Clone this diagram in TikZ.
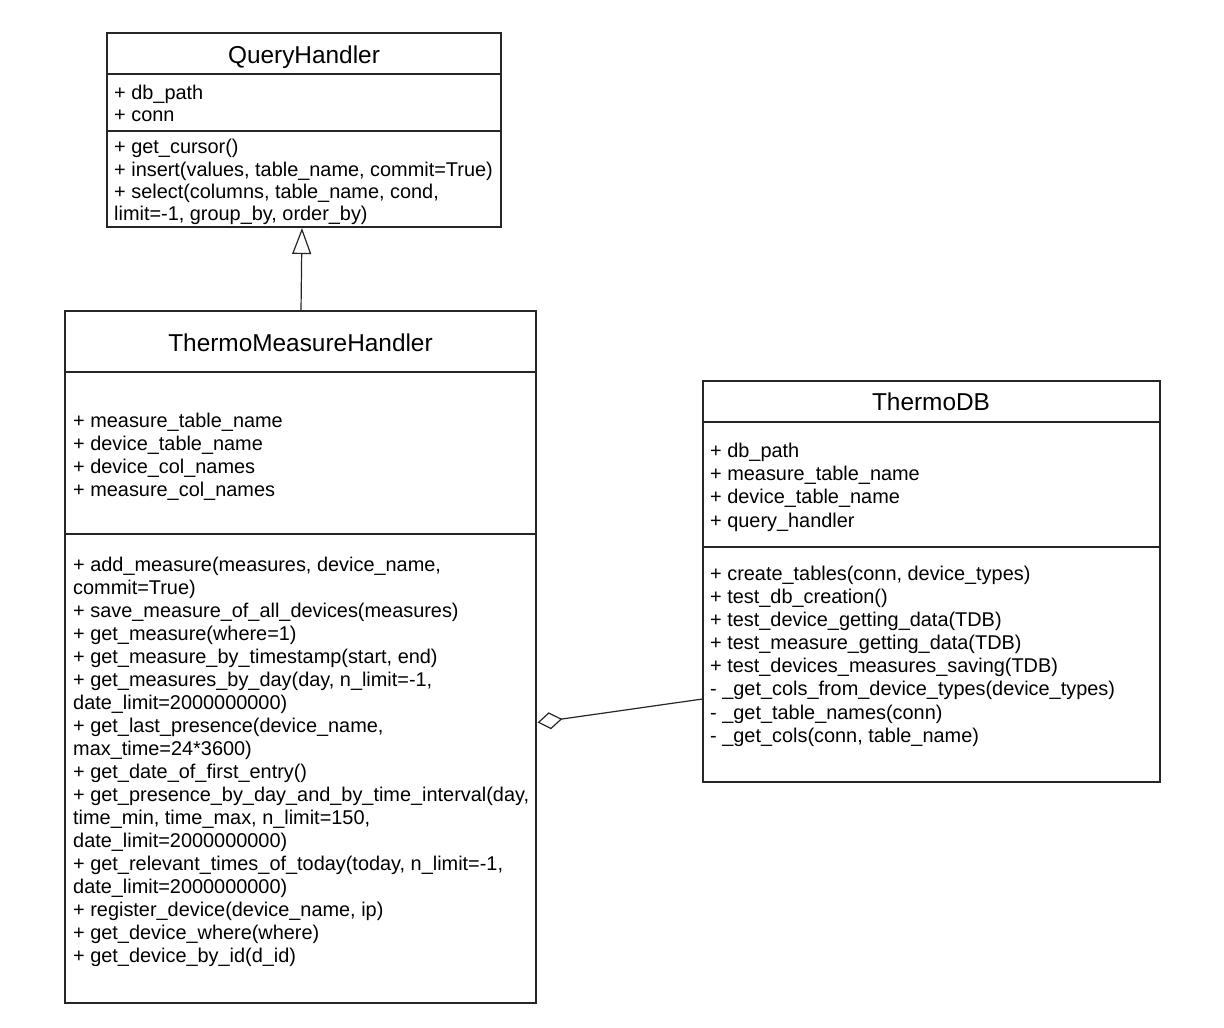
\documentclass[tikz,border=0pt]{standalone}
\usepackage{fontspec}
\setmainfont{Liberation Sans}
\usetikzlibrary{arrows.meta}
\begin{document}
\begin{tikzpicture}[x=1pt,y=-1pt,
  classbox/.style={draw=black!85, line width=1.2pt, inner sep=0pt, outer sep=0pt, fill=white},
  classtitle/.style={anchor=base, font=\fontsize{24.4}{28}\selectfont, inner sep=0pt},
  member/.style={anchor=base west, font=\fontsize{19.9}{23}\selectfont, inner sep=0pt},
  sepline/.style={draw=black!85, line width=1.2pt},
  thicksep/.style={draw=black!85, line width=2pt}]
\useasboundingbox (0,0) rectangle (1224,1028);
\fill[white] (0,0) rectangle (1224,1028);

% ---------- QueryHandler ----------
\node[classbox, minimum width=394pt, minimum height=194pt] (qh) at (304,130) {};
\draw[sepline] (qh.west |- 0,74) -- (qh.east |- 0,74);
\draw[sepline] (qh.west |- 0,131) -- (qh.east |- 0,131);
\node[classtitle] (qh-t) at (304,63) {QueryHandler};
\node[member] (qh-a1) at (114,99) {+ db\_path};
\node[member] (qh-a2) at (114,121) {+ conn};
\node[member] (qh-m1) at (114,153) {+ get\_cursor()};
\node[member] (qh-m2) at (114,176) {+ insert(values, table\_name, commit=True)};
\node[member] (qh-m3) at (114,198) {+ select(columns, table\_name, cond,};
\node[member] (qh-m4) at (114,220) {limit=-1, group\_by, order\_by)};

% ---------- ThermoMeasureHandler ----------
\node[classbox, minimum width=471pt, minimum height=692pt] (tmh) at (300.5,657) {};
\draw[thicksep] (tmh.west |- 0,372) -- (tmh.east |- 0,372);
\draw[sepline] (tmh.west |- 0,534) -- (tmh.east |- 0,534);
\node[classtitle] (tmh-t) at (300.5,351) {ThermoMeasureHandler};
\node[member] (tmh-a1) at (73,427) {+ measure\_table\_name};
\node[member] (tmh-a2) at (73,450) {+ device\_table\_name};
\node[member] (tmh-a3) at (73,473) {+ device\_col\_names};
\node[member] (tmh-a4) at (73,496) {+ measure\_col\_names};
\node[member] (tmh-m1)  at (73,571) {+ add\_measure(measures, device\_name,};
\node[member] (tmh-m2)  at (73,594) {commit=True)};
\node[member] (tmh-m3)  at (73,617) {+ save\_measure\_of\_all\_devices(measures)};
\node[member] (tmh-m4)  at (73,640) {+ get\_measure(where=1)};
\node[member] (tmh-m5)  at (73,663) {+ get\_measure\_by\_timestamp(start, end)};
\node[member] (tmh-m6)  at (73,686) {+ get\_measures\_by\_day(day, n\_limit=-1,};
\node[member] (tmh-m7)  at (73,709) {date\_limit=2000000000)};
\node[member] (tmh-m8)  at (73,732) {+ get\_last\_presence(device\_name,};
\node[member] (tmh-m9)  at (73,755) {max\_time=24*3600)};
\node[member] (tmh-m10) at (73,778) {+ get\_date\_of\_first\_entry()};
\node[member] (tmh-m11) at (73,801) {+ get\_presence\_by\_day\_and\_by\_time\_interval(day,};
\node[member] (tmh-m12) at (73,824) {time\_min, time\_max, n\_limit=150,};
\node[member] (tmh-m13) at (73,847) {date\_limit=2000000000)};
\node[member] (tmh-m14) at (73,870) {+ get\_relevant\_times\_of\_today(today, n\_limit=-1,};
\node[member] (tmh-m15) at (73,893) {date\_limit=2000000000)};
\node[member] (tmh-m16) at (73,916) {+ register\_device(device\_name, ip)};
\node[member] (tmh-m17) at (73,939) {+ get\_device\_where(where)};
\node[member] (tmh-m18) at (73,962) {+ get\_device\_by\_id(d\_id)};

% ---------- ThermoDB ----------
\node[classbox, minimum width=457pt, minimum height=401pt] (tdb) at (931.5,581.5) {};
\draw[sepline] (tdb.west |- 0,422) -- (tdb.east |- 0,422);
\draw[sepline] (tdb.west |- 0,547) -- (tdb.east |- 0,547);
\node[classtitle] (tdb-t) at (931,410) {ThermoDB};
\node[member] (tdb-a1) at (710,457) {+ db\_path};
\node[member] (tdb-a2) at (710,480) {+ measure\_table\_name};
\node[member] (tdb-a3) at (710,503) {+ device\_table\_name};
\node[member] (tdb-a4) at (710,527) {+ query\_handler};
\node[member] (tdb-m1) at (710,580) {+ create\_tables(conn, device\_types)};
\node[member] (tdb-m2) at (710,603) {+ test\_db\_creation()};
\node[member] (tdb-m3) at (710,626) {+ test\_device\_getting\_data(TDB)};
\node[member] (tdb-m4) at (710,649) {+ test\_measure\_getting\_data(TDB)};
\node[member] (tdb-m5) at (710,672) {+ test\_devices\_measures\_saving(TDB)};
\node[member] (tdb-m6) at (710,695) {- \_get\_cols\_from\_device\_types(device\_types)};
\node[member] (tdb-m7) at (710,719) {- \_get\_table\_names(conn)};
\node[member] (tdb-m8) at (710,742) {- \_get\_cols(conn, table\_name)};

% ---------- Connectors ----------
\coordinate (inhS) at (301,311);
\coordinate (inhE) at (302,228);
\draw[line width=1.2pt, draw=black!85, -{Triangle[open, length=26pt, width=19pt, line width=1.2pt]}] (inhS) -- (inhE);

\coordinate (aggS) at (537.5,722.5);
\coordinate (aggE) at (702.5,699);
\draw[line width=1.2pt, draw=black!85, {Diamond[open, length=25pt, width=17pt, line width=1.2pt]}-] (aggS) -- (aggE);
\end{tikzpicture}
\end{document}
